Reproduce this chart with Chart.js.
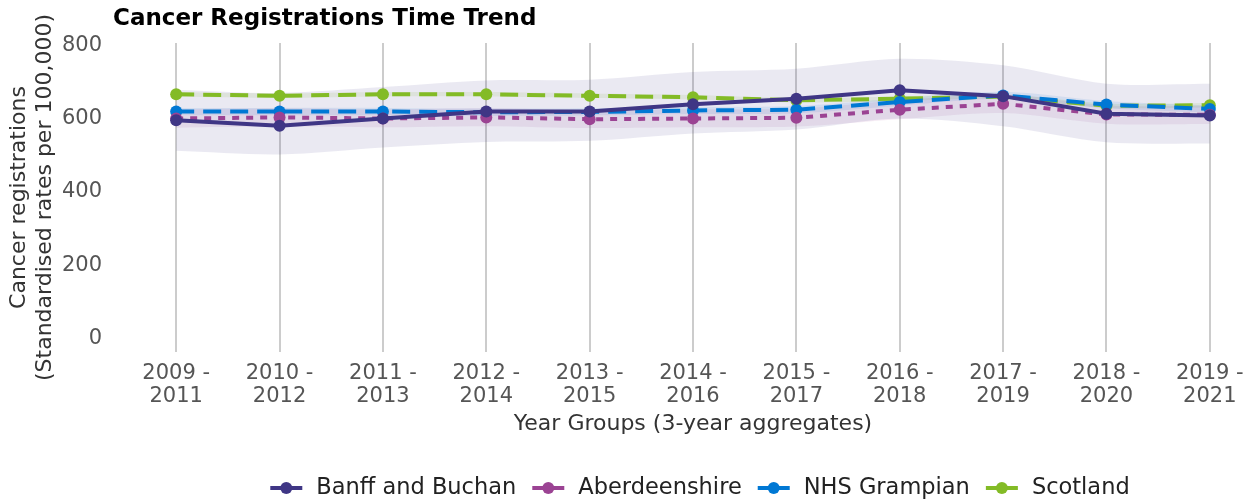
<!DOCTYPE html>
<html lang="en">
<head>
    <meta charset="UTF-8">
    <title>Cancer Registrations Time Trend</title>
    <script src="https://cdn.jsdelivr.net/npm/chart.js"></script>
    <style>
        body {
            margin: 0;
            background-color: white;
        }
        .chart-container {
            width: 1256px;
            height: 504px;
        }
    </style>
</head>
<body>
    <div class="chart-container">
        <canvas id="trendChart"></canvas>
    </div>

    <script>
        // Year groups (x categories)
        const yearGroups = ['2009 - 2011', '2010 - 2012', '2011 - 2013', '2012 - 2014', '2013 - 2015',
            '2014 - 2016', '2015 - 2017', '2016 - 2018', '2017 - 2019', '2018 - 2020', '2019 - 2021'];
        const yTicks = [0, 200, 400, 600, 800];

        // Standardised rates per 100,000 and confidence limits
        const banff      = [595, 580, 600, 619, 619, 639, 654, 677, 661, 613, 608];
        const banffLower = [512, 502, 521, 536, 539, 559, 570, 600, 579, 535, 532];
        const banffUpper = [678, 670, 686, 704, 706, 727, 736, 763, 745, 695, 695];

        const aberdeenshire = [600, 603, 600, 603, 598, 600, 602, 624, 640, 611, 610];
        const abdnLower     = [575, 578, 576, 579, 574, 576, 578, 598, 615, 586, 585];
        const abdnUpper     = [625, 628, 625, 628, 623, 625, 627, 650, 666, 636, 635];

        const grampian   = [619, 619, 619, 617, 618, 622, 624, 645, 663, 638, 626];
        const grampLower = [609, 609, 609, 607, 608, 612, 614, 635, 653, 628, 616];
        const grampUpper = [629, 629, 629, 627, 628, 632, 634, 655, 673, 648, 636];

        const scotland  = [666, 662, 666, 666, 662, 658, 650, 654, 660, 635, 636];
        const scotLower = [660, 656, 660, 660, 656, 652, 644, 648, 654, 629, 630];
        const scotUpper = [672, 668, 672, 672, 668, 664, 656, 660, 666, 641, 642];

        const toPoints = arr => arr.map((v, i) => ({ x: i, y: v }));

        function lineSet(label, data, color, dash) {
            return {
                label: label,
                data: toPoints(data),
                borderColor: color,
                backgroundColor: color,
                borderWidth: 4,
                borderDash: dash,
                pointRadius: 6,
                pointHoverRadius: 6,
                pointBorderWidth: 0,
                fill: false,
                tension: 0,
                order: 1
            };
        }

        function bandSet(upper, lower, fillColor) {
            return [{
                label: 'band',
                data: toPoints(upper),
                borderWidth: 0,
                pointRadius: 0,
                backgroundColor: fillColor,
                fill: '+1',
                tension: 0.3,
                order: 5
            }, {
                label: 'band',
                data: toPoints(lower),
                borderWidth: 0,
                pointRadius: 0,
                backgroundColor: fillColor,
                fill: false,
                tension: 0.3,
                order: 5
            }];
        }

        // Main title and legend, drawn in place
        const extrasPlugin = {
            id: 'extras',
            afterDraw(chart) {
                const ctx = chart.ctx;
                ctx.save();
                ctx.font = 'bold 23px "DejaVu Sans"';
                ctx.fillStyle = '#000';
                ctx.textBaseline = 'middle';
                ctx.fillText('Cancer Registrations Time Trend', 113, 19);

                // legend
                const items = chart.data.datasets.filter(ds => ds.label !== 'band');
                ctx.font = '22.5px "DejaVu Sans"';
                const symW = 32, symGap = 14, itemGap = 16;
                const widths = items.map(ds => symW + symGap + ctx.measureText(ds.label).width);
                const total = widths.reduce((a, b) => a + b, 0) + itemGap * (items.length - 1);
                const centerX = (chart.chartArea.left + chart.chartArea.right) / 2 + 7;
                let x = centerX - total / 2;
                const y = 488;
                items.forEach((ds, i) => {
                    ctx.strokeStyle = ds.borderColor;
                    ctx.fillStyle = ds.borderColor;
                    ctx.lineWidth = 4;
                    ctx.beginPath();
                    ctx.moveTo(x, y);
                    ctx.lineTo(x + symW, y);
                    ctx.stroke();
                    ctx.beginPath();
                    ctx.arc(x + symW / 2, y, 6, 0, Math.PI * 2);
                    ctx.fill();
                    ctx.fillStyle = '#222';
                    ctx.fillText(ds.label, x + symW + symGap, y);
                    x += widths[i] + itemGap;
                });
                ctx.restore();
            }
        };

        const chart = new Chart(document.getElementById('trendChart'), {
            type: 'line',
            data: {
                datasets: [
                    lineSet('Banff and Buchan', banff, '#3F3685', []),
                    lineSet('Aberdeenshire', aberdeenshire, '#9B4393', [7, 7]),
                    lineSet('NHS Grampian', grampian, '#0078D4', [18, 9]),
                    lineSet('Scotland', scotland, '#83BB26', [18, 9]),
                    ...bandSet(banffUpper, banffLower, 'rgba(63, 54, 133, 0.11)'),
                    ...bandSet(abdnUpper, abdnLower, 'rgba(155, 67, 147, 0.10)'),
                    ...bandSet(grampUpper, grampLower, 'rgba(0, 120, 212, 0.10)'),
                    ...bandSet(scotUpper, scotLower, 'rgba(131, 187, 38, 0.12)')
                ]
            },
            options: {
                responsive: true,
                maintainAspectRatio: false,
                animation: false,
                layout: {
                    padding: { top: 43, right: 10, left: 0, bottom: 42 }
                },
                plugins: {
                    tooltip: { enabled: false },
                    legend: { display: false }
                },
                scales: {
                    x: {
                        type: 'linear',
                        min: -0.35,
                        max: 10.35,
                        afterBuildTicks(scale) {
                            scale.ticks = yearGroups.map((g, i) => ({ value: i }));
                        },
                        afterFit(scale) {
                            scale.height = 110;
                        },
                        grid: {
                            color: '#cccccc',
                            lineWidth: 2,
                            drawTicks: false
                        },
                        border: { display: false },
                        ticks: {
                            padding: 10,
                            maxRotation: 0,
                            autoSkip: false,
                            color: '#555',
                            font: { family: 'DejaVu Sans', size: 21, lineHeight: 1.1 },
                            callback: value => {
                                const g = yearGroups[value];
                                return g ? [g.split(' - ')[0] + ' -', g.split(' - ')[1]] : '';
                            }
                        },
                        title: {
                            display: true,
                            text: 'Year Groups (3-year aggregates)',
                            color: '#333',
                            font: { family: 'DejaVu Sans', size: 22, lineHeight: 1.15 },
                            padding: { top: 0, bottom: 25 }
                        }
                    },
                    y: {
                        min: -37,
                        max: 806,
                        afterBuildTicks(scale) {
                            scale.ticks = yTicks.map(v => ({ value: v }));
                        },
                        afterFit(scale) {
                            scale.width = 140;
                            scale.paddingTop = 0;
                            scale.paddingBottom = 0;
                        },
                        grid: { display: false, drawTicks: false },
                        border: { display: false },
                        ticks: {
                            padding: 38,
                            color: '#555',
                            font: { family: 'DejaVu Sans', size: 21 }
                        },
                        title: {
                            display: true,
                            text: ['Cancer registrations', '(Standardised rates per 100,000)'],
                            color: '#333',
                            font: { family: 'DejaVu Sans', size: 22, lineHeight: 1.15 },
                            padding: { top: 7, bottom: 0 }
                        }
                    }
                }
            },
            plugins: [extrasPlugin]
        });
    </script>
</body>
</html>
